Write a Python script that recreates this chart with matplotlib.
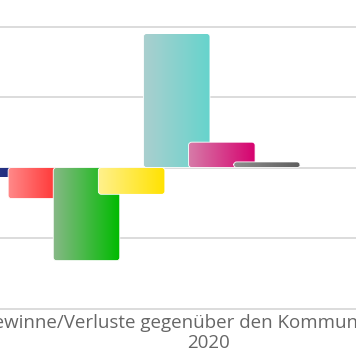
import numpy as np
import matplotlib
matplotlib.use("Agg")
import matplotlib.pyplot as plt
from matplotlib.patches import FancyBboxPatch
from matplotlib.colors import LinearSegmentedColormap

# ---------------------------------------------------------
# Data (Gewinne/Verluste, Prozentpunkte)
# ---------------------------------------------------------
parties = ["A", "B", "C", "D", "E", "F", "G"]
changes = [-0.7, -2.2, -6.6, -1.9, 9.5, 1.8, 0.4]
left_colors = ["#3a4890", "#ff8a8a", "#88b888", "#fff18e", "#abcfcf", "#d67ba8", "#8e8e8e"]
right_colors = ["#16237a", "#ff1616", "#00bb00", "#ffe200", "#66d4cc", "#d6006e", "#5e5e5e"]
grid_values = [-10, -5, 0, 5, 10]
xlabel = "Gewinne/Verluste gegenüber den Kommunalwahlen\n2020"

W, H = 356, 364
fig = plt.figure(figsize=(W / 100, H / 100), dpi=100)
ax = fig.add_axes([0, (H - 310) / H, 1, 310 / H])

ax.set_xlim(0.082, 7.975)
ax.set_ylim(-10.1, 11.88)
ax.set_axis_off()

for g in grid_values:
    ax.axhline(g, color="#d9d9d9", lw=1.3, zorder=0)

bar_w = 1.475
gradient = np.linspace(0, 1, 256).reshape(1, -1)

for i, (name, v) in enumerate(zip(parties, changes)):
    x0 = i - bar_w / 2
    y0 = min(0, v)
    h = abs(v)
    patch = FancyBboxPatch(
        (x0, y0), bar_w, h,
        boxstyle="round,pad=0,rounding_size=0.07",
        mutation_aspect=3.1,
        facecolor="none", edgecolor="white", lw=0.6,
        zorder=2 + 2 * i + 1,
    )
    ax.add_patch(patch)
    cmap = LinearSegmentedColormap.from_list(name, [left_colors[i], right_colors[i]])
    im = ax.imshow(gradient, cmap=cmap, aspect="auto",
                   extent=[x0, x0 + bar_w, y0, y0 + h],
                   zorder=2 + 2 * i, interpolation="bilinear")
    im.set_clip_path(patch)

fig.text(208 / W, 1 - 333 / H, xlabel, ha="center", va="center",
         fontsize=13.5, color="#666666", family="Open Sans", linespacing=1.2)

fig.savefig("out.png", dpi=100)
